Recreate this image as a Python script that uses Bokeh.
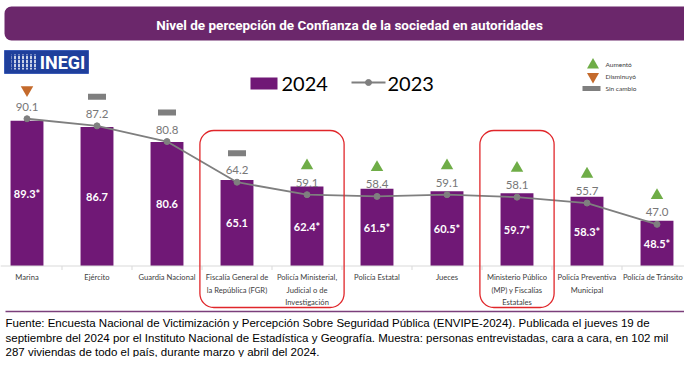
import numpy as np
from bokeh.plotting import figure
from bokeh.models import Range1d, BoxAnnotation, ColumnDataSource, Span
from bokeh.core.properties import value
from bokeh.embed import file_html
from bokeh.resources import INLINE

# ---------------- data ----------------
categorias = [
    "Marina",
    "Ejército",
    "Guardia Nacional",
    "Fiscalía General de\nla República (FGR)",
    "Policía Ministerial,\nJudicial o de\nInvestigación",
    "Policía Estatal",
    "Jueces",
    "Ministerio Público\n(MP) y Fiscalías\nEstatales",
    "Policía Preventiva\nMunicipal",
    "Policía de Tránsito",
]
valores_2024 = [89.3, 86.7, 80.6, 65.1, 62.4, 61.5, 60.5, 59.7, 58.3, 48.5]
significativo_2024 = [True, False, False, False, True, True, True, True, True, True]
valores_2023 = [90.1, 87.2, 80.8, 64.2, 59.1, 58.4, 59.1, 58.1, 55.7, 47.0]
cambio = ["Disminuyó", "Sin cambio", "Sin cambio", "Sin cambio", "Aumentó",
          "Aumentó", "Aumentó", "Aumentó", "Aumentó", "Aumentó"]
grupos_resaltados = [[3, 4], [7]]
eje_min = 30

titulo = "Nivel de percepción de Confianza de la sociedad en autoridades"
nota = [
    "Fuente: Encuesta Nacional de Victimización y Percepción Sobre Seguridad Pública (ENVIPE-2024). Publicada el jueves 19 de",
    "septiembre del 2024 por el Instituto Nacional de Estadística y Geografía. Muestra: personas entrevistadas, cara a cara, en 102 mil",
    "287 viviendas de todo el país, durante marzo y abril del 2024.",
]

# ---------------- styles ----------------
PURPLE = "#701876"
TITLE_BG = "#6b276b"
GRAY = "#7f7f7f"
GREEN = "#6fad47"
ORANGE = "#c46a2c"
RED = "#e0262a"
FONT = "Lato"

W, H = 684, 357
K = 2.45                     # px per value unit
BASE_PX = 265.5              # y of the baseline (px from top)
X0 = (0 - 26.5) / 70
X1 = (W - 26.5) / 70
Y1 = eje_min + BASE_PX / K
Y0 = eje_min - (H - BASE_PX) / K

p = figure(width=W, height=H, x_range=Range1d(X0, X1), y_range=Range1d(Y0, Y1),
           output_backend="svg", toolbar_location=None, min_border=0,
           x_axis_location=None, y_axis_location=None,
           outline_line_color=None, background_fill_color="white",
           border_fill_color="white")
p.grid.visible = False
p.extra_x_ranges = {"px": Range1d(0, W)}
p.extra_y_ranges = {"px": Range1d(H, 0)}

idx = np.arange(len(categorias))

# ---------- title bar ----------
p.add_layout(BoxAnnotation(left=4, right=692, top=6, bottom=40, x_range_name="px",
                           y_range_name="px", fill_color=TITLE_BG, fill_alpha=1,
                           line_color=None, border_radius=7, level="underlay"))
p.text(x=[349], y=[24], text=[titulo], x_range_name="px", y_range_name="px",
       text_color="white", text_font=value("Roboto"), text_font_style="bold",
       text_font_size="13.5px", text_align="center", text_baseline="middle")

# ---------- INEGI logo ----------
p.add_layout(BoxAnnotation(left=4, right=88, top=50, bottom=73, x_range_name="px",
                           y_range_name="px", fill_color="#1f3f9c", fill_alpha=1,
                           line_color="#3a5ab5", line_alpha=1, line_width=1,
                           level="underlay"))
p.add_layout(BoxAnnotation(left=11, right=36, top=54, bottom=69, x_range_name="px",
                           y_range_name="px", fill_alpha=0, line_color=None,
                           hatch_pattern=":", hatch_color="white", hatch_scale=4,
                           hatch_weight=1.5, level="underlay"))
p.text(x=[62], y=[62], text=["INEGI"], x_range_name="px", y_range_name="px",
       text_color="white", text_font=value("Roboto"), text_font_style="bold",
       text_font_size="18px", text_align="center", text_baseline="middle")

# ---------- series legend ----------
p.quad(left=[250], right=[277], top=[77], bottom=[89], x_range_name="px",
       y_range_name="px", fill_color=PURPLE, line_color=None)
p.text(x=[281], y=[83], text=["2024"], x_range_name="px", y_range_name="px",
       text_color="black", text_font=value(FONT), text_font_size="20px",
       text_align="left", text_baseline="middle")
p.line(x=[351, 385], y=[82, 82], x_range_name="px", y_range_name="px",
       line_color=GRAY, line_width=1.8)
p.scatter(x=[368], y=[82], x_range_name="px", y_range_name="px", marker="circle",
          size=6, fill_color=GRAY, line_color=GRAY)
p.text(x=[387], y=[83], text=["2023"], x_range_name="px", y_range_name="px",
       text_color="black", text_font=value(FONT), text_font_size="20px",
       text_align="left", text_baseline="middle")

# ---------- change legend ----------
p.scatter(x=[592.5], y=[64.5], x_range_name="px", y_range_name="px",
          marker="triangle", size=12, fill_color=GREEN, line_color=None)
p.scatter(x=[592.5], y=[76], x_range_name="px", y_range_name="px",
          marker="inverted_triangle", size=12, fill_color=ORANGE, line_color=None)
p.rect(x=[591], y=[88], width=18, height=5, width_units="screen",
       height_units="screen", x_range_name="px", y_range_name="px",
       fill_color=GRAY, line_color=None)
p.text(x=[605, 605, 605], y=[64, 75.5, 88], text=["Aumentó", "Disminuyó", "Sin cambio"],
       x_range_name="px", y_range_name="px", text_color="#404040",
       text_font=value(FONT), text_font_size="6.5px", text_align="left",
       text_baseline="middle")

# ---------- axis ----------
p.add_layout(Span(location=eje_min, dimension="width", line_color="#d9d9d9",
                  line_width=1))
bordes = np.arange(len(categorias) + 1) - 0.5
p.segment(x0=bordes, y0=[eje_min] * len(bordes), x1=bordes,
          y1=[eje_min - 4 / K] * len(bordes), line_color="#d9d9d9", line_width=1)

# ---------- bars ----------
n = len(categorias)
src = ColumnDataSource(dict(
    x=idx, top=valores_2024, mid=[(eje_min + v) / 2 for v in valores_2024],
    lab=[f"{v:.1f}*" if s else f"{v:.1f}" for v, s in zip(valores_2024, significativo_2024)],
    cat=categorias,
    dx=[0] * (n - 1) + [-4],          # keep the last label inside the canvas
))
p.vbar(x="x", top="top", bottom=eje_min, width=0.47, source=src,
       fill_color=PURPLE, line_color=None)
p.text(x="x", y="mid", text="lab", source=src, text_color="white",
       text_font=value(FONT), text_font_style="bold", text_font_size="11px",
       text_align="center", text_baseline="middle")

# ---------- 2023 line ----------
src23 = ColumnDataSource(dict(
    x=idx, y=valores_2023, lab=[f"{v:.1f}" for v in valores_2023],
))
p.line(x="x", y="y", source=src23, line_color=GRAY, line_width=1.8)
p.scatter(x="x", y="y", source=src23, marker="circle", size=6,
          fill_color=GRAY, line_color=GRAY)
p.text(x="x", y="y", text="lab", source=src23, y_offset=-12, text_color="#777777",
       text_font=value(FONT), text_font_size="11.5px", text_align="center",
       text_baseline="middle")

# ---------- change indicators ----------
def sel(tipo):
    xs = [i for i, c in zip(idx, cambio) if c == tipo]
    ys = [valores_2023[i] + 29 / K for i in xs]
    return xs, ys

xs, ys = sel("Aumentó")
p.scatter(x=xs, y=ys, marker="triangle", size=12.5, fill_color=GREEN, line_color=None)
xs, ys = sel("Disminuyó")
p.scatter(x=xs, y=ys, marker="inverted_triangle", size=12.5, fill_color=ORANGE,
          line_color=None)
xs, ys = sel("Sin cambio")
p.rect(x=xs, y=ys, width=18, height=6, width_units="screen", height_units="screen",
       fill_color=GRAY, line_color=None)

# ---------- category labels ----------
p.text(x="x", y=eje_min, text="cat", source=src, x_offset="dx", y_offset=6,
       text_color="#404040", text_font=value(FONT), text_font_size="7.6px",
       text_align="center", text_baseline="top", text_line_height=1.25)

# ---------- highlight boxes ----------
for g in grupos_resaltados:
    p.add_layout(BoxAnnotation(left=min(g) - 0.53, right=max(g) + 0.53, top=130,
                               bottom=307, y_range_name="px", fill_alpha=0,
                               line_color=RED, line_alpha=1, line_width=1.3,
                               border_radius=14))

# ---------- separator & footer ----------
p.segment(x0=[5], y0=[311], x1=[695], y1=[311], x_range_name="px", y_range_name="px",
          line_color="#7b3f7b", line_width=1.5)
p.text(x=[5, 5, 5], y=[322, 337, 351], text=nota, x_range_name="px", y_range_name="px",
       text_color="black", text_font=value("Liberation Sans"), text_font_size="11.5px",
       text_align="left", text_baseline="middle")

open("out.html", "w").write(file_html(p, INLINE))
